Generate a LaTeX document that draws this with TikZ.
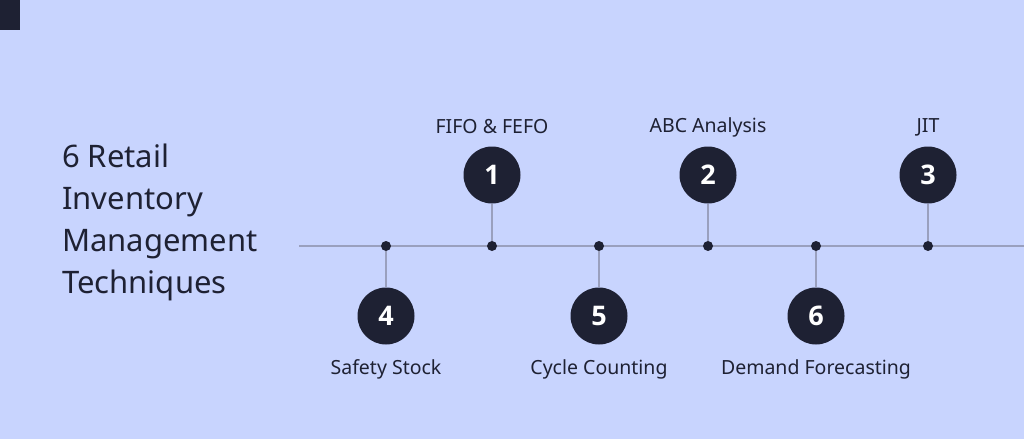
\documentclass[tikz,border=0pt]{standalone}
\usepackage{fontspec}
\setmainfont{Noto Sans}
\newfontfamily\numfont{Open Sans}
\definecolor{bg}{HTML}{C8D4FE}
\definecolor{ink}{HTML}{1E2133}
\definecolor{rail}{HTML}{9AA0BE}
\begin{document}
\begin{tikzpicture}[x=1pt,y=-1pt,
  num/.style={circle,fill=ink,minimum size=57pt,inner sep=0pt,text=white,font=\numfont\bfseries\fontsize{27}{27}\selectfont},
  dot/.style={circle,fill=ink,minimum size=10pt,inner sep=0pt},
  lab/.style={text=ink,font=\fontsize{19.5}{19.5}\selectfont,inner sep=0pt},
  stem/.style={draw=rail,line width=1.3pt}]
\fill[bg] (0,0) rectangle (1024,439);
\useasboundingbox (0,0) rectangle (1024,439);
\fill[ink] (0,0) rectangle (20,30);
\node[anchor=north west,align=left,text=ink,inner sep=0pt,font=\fontsize{31}{42}\selectfont] (title) at (62,144)
  {6 Retail\\Inventory\\Management\\Techniques};
\coordinate (ls) at (299,246);
\coordinate (le) at (1024,246);
\draw[stem] (ls) -- (le);
% top items
\foreach \n/\x/\t in {1/492/FIFO \& FEFO,2/708/ABC Analysis,3/928/JIT}{
  \node[dot] (d\n) at (\x,246) {};
  \node[num] (c\n) at (\x,175) {\n};
  \draw[stem] (c\n) -- (d\n);
  \node[lab] (t\n) at (\x,127) {\t};
}
\foreach \n/\x/\t in {4/386/Safety Stock,5/599/Cycle Counting,6/816/Demand Forecasting}{
  \node[dot] (d\n) at (\x,246) {};
  \node[num] (c\n) at (\x,316) {\n};
  \draw[stem] (d\n) -- (c\n);
  \node[lab] (t\n) at (\x,369) {\t};
}
\end{tikzpicture}
\end{document}
